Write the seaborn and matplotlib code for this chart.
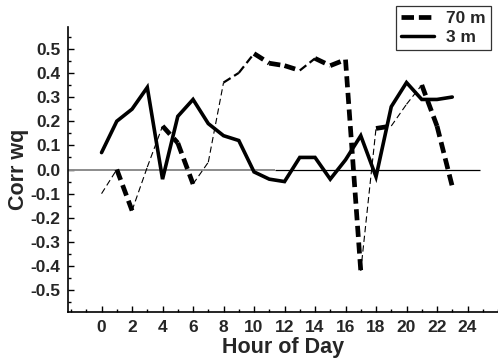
import numpy as np
import pandas as pd
import matplotlib
matplotlib.use("Agg")
import matplotlib.pyplot as plt
import seaborn as sns
from matplotlib.lines import Line2D
from matplotlib.ticker import MultipleLocator

# ---- data ----
hours = list(range(24))
corr_70m = [-0.10, 0.00, -0.17, 0.01, 0.18, 0.11, -0.06, 0.03, 0.36, 0.40,
            0.48, 0.44, 0.43, 0.41, 0.46, 0.43, 0.455, -0.42, 0.17, 0.18,
            0.27, 0.35, 0.18, -0.07]
# segment weight between hour i and i+1 (0 thin, 1 medium, 2 thick)
weight_70m = [0, 2, 0, 0, 2, 2, 0, 0, 1, 1, 2, 2, 2, 1, 2, 2, 2, 0, 2, 0, 0, 2, 2]
corr_3m = [0.07, 0.20, 0.25, 0.34, -0.04, 0.22, 0.29, 0.19, 0.14, 0.12,
           -0.01, -0.04, -0.05, 0.05, 0.05, -0.04, 0.04, 0.14, -0.03, 0.26,
           0.36, 0.29, 0.29, 0.30]
series_labels = ["70 m", "3 m"]
xtick_vals = list(range(0, 25, 2))
ytick_vals = [-0.5, -0.4, -0.3, -0.2, -0.1, 0.0, 0.1, 0.2, 0.3, 0.4, 0.5]

# ---- style ----
sns.set_theme(style="white")
plt.rcParams['font.family'] = ['Liberation Sans', 'DejaVu Sans']
plt.rcParams['font.weight'] = 'bold'
plt.rcParams['lines.scale_dashes'] = False

lw_map = {0: 0.8, 1: 1.6, 2: 3.4}
dash_map = {0: (4.5, 2.5), 1: (6, 3), 2: (8, 4)}

fig = plt.figure(figsize=(4.98, 3.63), dpi=100)
ax = fig.add_axes([68/498, 51/363, 430/498, 285/363])

# zero reference line
ax.hlines(0, -2.2, 11.4, color='#8c8c8c', linewidth=1.4, zorder=1)
ax.hlines(0, 11.4, 24.8, color='black', linewidth=0.9, zorder=1)

# 3 m solid line
df3 = pd.DataFrame({"hour": hours, "corr": corr_3m})
sns.lineplot(data=df3, x="hour", y="corr", ax=ax, color='black',
             linewidth=2.6, zorder=3, solid_joinstyle='miter')

# 70 m dashed line with variable weight per segment
for i, w in enumerate(weight_70m):
    ax.plot(hours[i:i+2], corr_70m[i:i+2], color='black',
            linewidth=lw_map[w], linestyle=(0, dash_map[w]), zorder=4)

ax.set_xlim(-2.2, 26.0)
ax.set_ylim(-0.59, 0.59)
ax.set_xticks(xtick_vals)
ax.set_yticks(ytick_vals)
ax.set_yticklabels([f"{v:.1f}" for v in ytick_vals])
ax.xaxis.set_minor_locator(MultipleLocator(1))
ax.yaxis.set_minor_locator(MultipleLocator(0.05))
ax.tick_params(axis='both', which='major', direction='in', length=4.5,
               width=1, color='black', labelsize=12.5, pad=5.5)
ax.tick_params(axis='both', which='minor', direction='in', length=2.5,
               width=1, color='black')
ax.tick_params(axis='x', which='both', bottom=True)
ax.tick_params(axis='y', which='both', left=True)
for lab in ax.get_xticklabels() + ax.get_yticklabels():
    lab.set_fontweight('bold')

for s in ['top', 'right']:
    ax.spines[s].set_visible(False)
for s in ['left', 'bottom']:
    ax.spines[s].set_color('black')
    ax.spines[s].set_linewidth(1.2)

ax.set_xlabel("Hour of Day", fontsize=15.5, fontweight='bold', labelpad=2)
ax.set_ylabel("Corr wq", fontsize=15.5, fontweight='bold', labelpad=1)

handles = [Line2D([], [], color='black', linewidth=3.4, linestyle=(0, (9, 3.5))),
           Line2D([], [], color='black', linewidth=2.5)]
leg = fig.legend(handles, series_labels, loc='upper right',
                 bbox_to_anchor=(491/498, 1 - 6/363), frameon=True,
                 fancybox=False, shadow=False, fontsize=12.5,
                 handlelength=1.9, handletextpad=0.7, labelspacing=0.2,
                 borderpad=0.3, borderaxespad=0)
leg.get_frame().set_edgecolor('black')
leg.get_frame().set_linewidth(0.9)
for t in leg.get_texts():
    t.set_fontweight('bold')

fig.savefig("out.png", dpi=100)
